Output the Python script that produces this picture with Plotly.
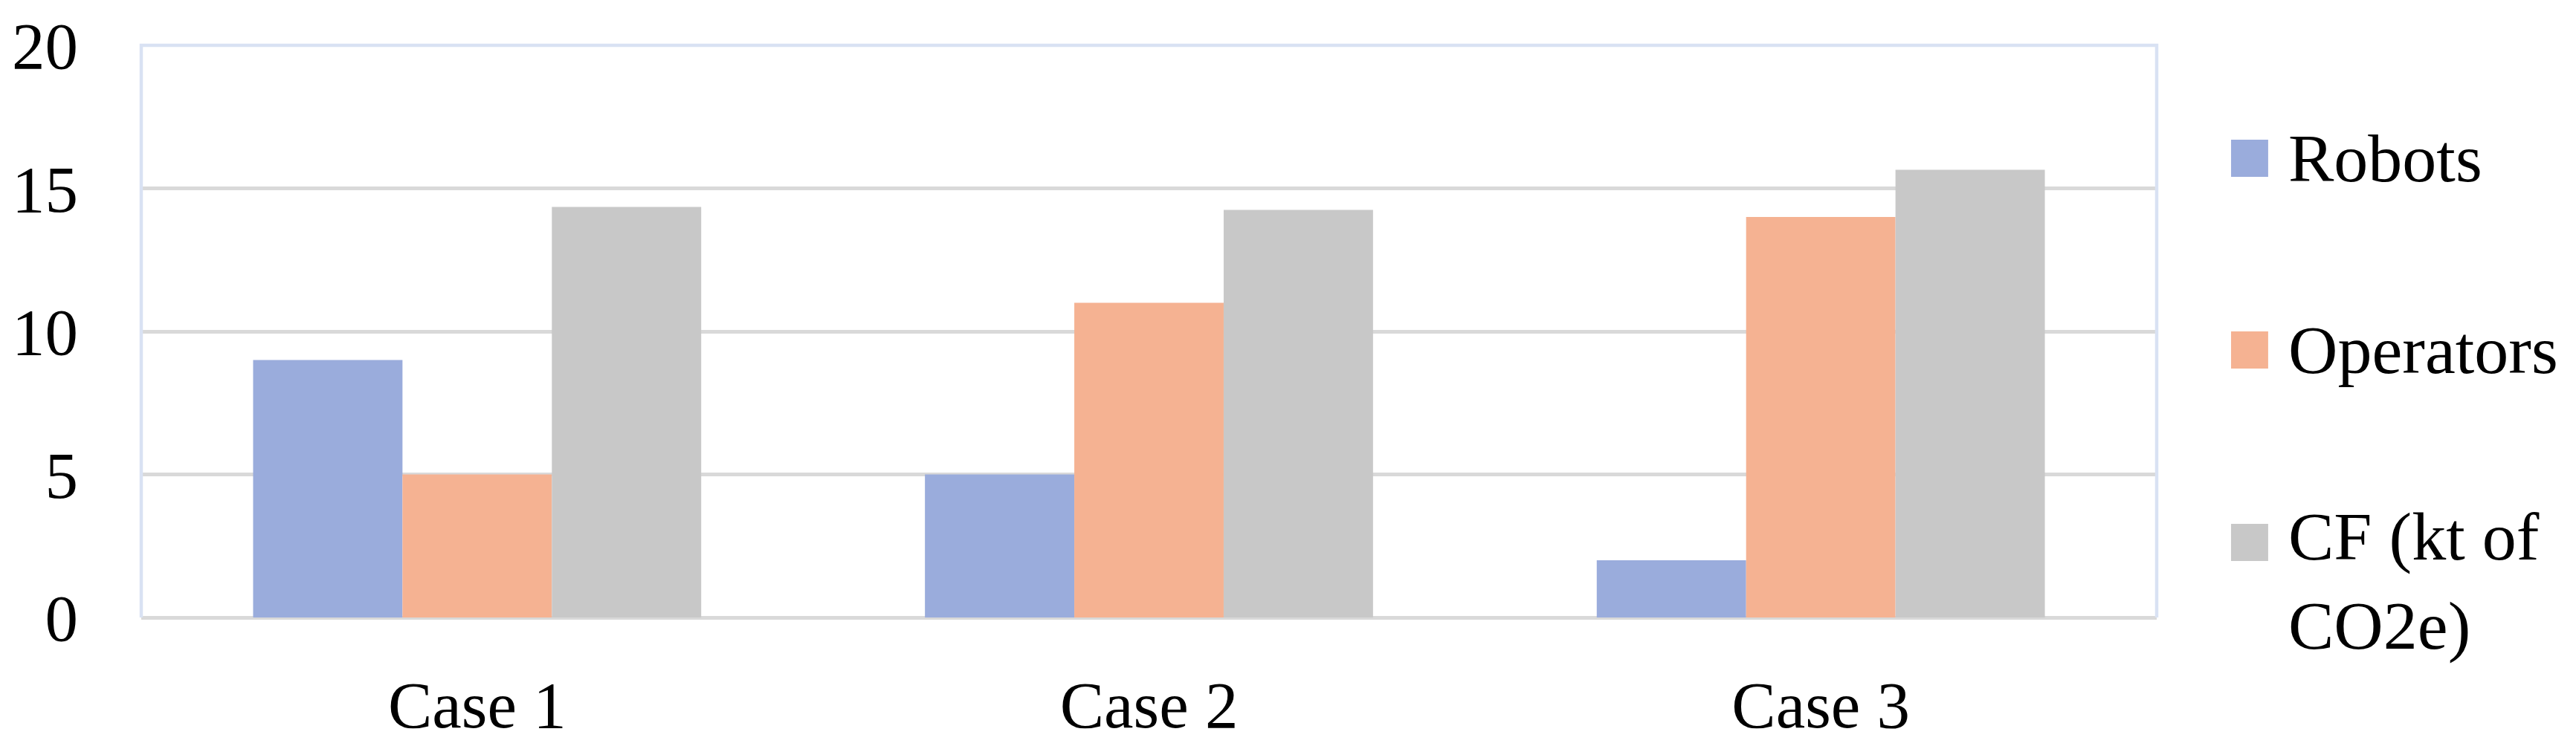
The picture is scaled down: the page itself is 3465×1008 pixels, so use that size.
import plotly.graph_objects as go

categories = ["Case 1", "Case 2", "Case 3"]
series_names = ["Robots", "Operators", "CF (kt of<br>CO2e)"]
robots = [9, 5, 2]
operators = [5, 11, 14]
cf = [14.35, 14.25, 15.65]
y_ticks = [0, 5, 10, 15, 20]

colors = ["#9aacdc", "#f5b292", "#c8c8c8"]
FONT = "Liberation Serif, Times New Roman, serif"
FS = 89

fig = go.Figure()
for name, vals, col in zip(series_names, [robots, operators, cf], colors):
    fig.add_trace(go.Bar(x=categories, y=vals, name=name.replace("<br>", " "),
                         marker=dict(color=col, line=dict(width=0)),
                         showlegend=False))

# plot-area border (top/left/right) in light blue
fig.add_shape(type="path", xref="paper", yref="paper",
              path="M0,0 L0,1 L1,1 L1,0", line=dict(color="#d9e2f3", width=4.5),
              layer="above")

# manual legend (large squares like the original)
leg_y = [0.8026, 0.4675, 0.1312]
text_y = [0.8026, 0.4675, 0.0636]
for name, col, yc, yt in zip(series_names, colors, leg_y, text_y):
    h = 25 / 770
    fig.add_shape(type="rect", xref="paper", yref="paper",
                  x0=1.0369, x1=1.0553, y0=yc - h, y1=yc + h,
                  fillcolor=col, line=dict(width=0))
    fig.add_annotation(xref="paper", yref="paper", x=1.0645, y=yt,
                       xanchor="left", yanchor="middle", align="left",
                       text=name, showarrow=False,
                       font=dict(family=FONT, size=FS + 3, color="black"))

# page body has an 8px default margin, so the figure is made 8px smaller
fig.update_layout(
    width=3457, height=1000,
    margin=dict(l=182, r=564, t=53, b=177, autoexpand=False),
    paper_bgcolor="white", plot_bgcolor="white",
    barmode="group", bargap=0.333, bargroupgap=0,
    font=dict(family=FONT, size=FS, color="black"),
    showlegend=False,
)
fig.update_xaxes(showgrid=False, showline=False, zeroline=False, ticks="", automargin=False,
                 ticklabelstandoff=58, tickfont=dict(family=FONT, size=FS, color="black"))
fig.update_yaxes(range=[0, 20], tickvals=y_ticks, showgrid=True, gridcolor="#d9d9d9",
                 gridwidth=5, zeroline=True, zerolinecolor="#d9d9d9", zerolinewidth=5,
                 showline=False, ticks="", ticklabelstandoff=84, automargin=False,
                 tickfont=dict(family=FONT, size=FS, color="black"))

fig.write_html("out.html")
